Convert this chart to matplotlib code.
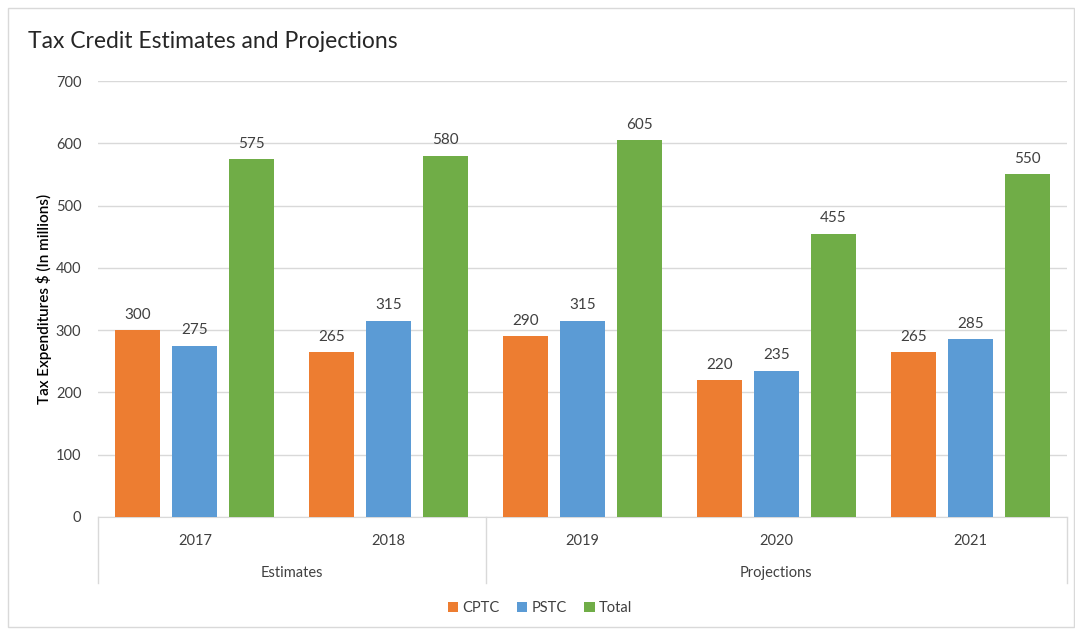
import matplotlib.pyplot as plt
import numpy as np
from matplotlib.patches import Rectangle

plt.rcParams['font.family'] = ['Lato', 'DejaVu Sans']

years = ["2017", "2018", "2019", "2020", "2021"]
groups = ["Estimates", "Projections"]
group_sizes = [2, 3]
series = ["CPTC", "PSTC", "Total"]
cptc = [300, 265, 290, 220, 265]
pstc = [275, 315, 315, 235, 285]
total = [575, 580, 605, 455, 550]
colors = ["#ED7D31", "#5B9BD5", "#70AD47"]

fig = plt.figure(figsize=(10.75, 6.3), dpi=100)
ax = fig.add_axes([0.0912, 0.1794, 0.9014, 0.692])

# light frame around the chart area
fig.patches.append(Rectangle((8 / 1075, 3 / 630), 1 - 9 / 1075, 1 - 11 / 630,
                             transform=fig.transFigure, fill=False,
                             edgecolor="#D9D9D9", linewidth=1))

x = np.arange(len(years))
width = 0.232
offset = 0.294
for i, (name, vals) in enumerate(zip(series, [cptc, pstc, total])):
    bars = ax.bar(x + (i - 1) * offset, vals, width, color=colors[i], label=name, zorder=3)
    ax.bar_label(bars, padding=6, fontsize=11, color="#404040")

ax.set_xlim(-0.5, len(years) - 0.5)
ax.set_ylim(0, 700)
ax.set_yticks(range(0, 701, 100))
ax.grid(axis="y", color="#D9D9D9", linewidth=1, zorder=0)
ax.tick_params(axis="y", length=0, labelsize=10.5, labelcolor="#404040", pad=12)
ax.set_xticks(x)
ax.set_xticklabels(years)
ax.tick_params(axis="x", length=0, labelsize=10.5, labelcolor="#404040", pad=12)
for s in ["top", "right", "left"]:
    ax.spines[s].set_visible(False)
ax.spines["bottom"].set_color("#D9D9D9")

# group separators and group labels
bounds = np.concatenate([[0], np.cumsum(group_sizes)]) - 0.5
for b in bounds:
    ax.plot([b, b], [0, -0.151], color="#D9D9D9", linewidth=1,
            transform=ax.get_xaxis_transform(), clip_on=False)
for g, lo, hi in zip(groups, bounds[:-1], bounds[1:]):
    ax.text((lo + hi) / 2, -0.129, g, transform=ax.get_xaxis_transform(),
            ha="center", va="center", fontsize=10.5, color="#404040")

ax.set_ylabel("Tax Expenditures $ (In millions)", fontsize=11, color="#000000",
              fontweight="semibold", labelpad=3)
fig.text(28 / 1075, 1 - 42 / 630, "Tax Credit Estimates and Projections",
         fontsize=16.5, color="#262626", va="center", ha="left")

fig.legend(loc="center", bbox_to_anchor=(540 / 1075, 1 - 608 / 630), ncol=3,
           frameon=False, fontsize=10.5, handlelength=0.7, handleheight=0.7,
           handletextpad=0.3, columnspacing=1.2, labelcolor="#404040")

fig.savefig("out.png", dpi=100, facecolor="white")
